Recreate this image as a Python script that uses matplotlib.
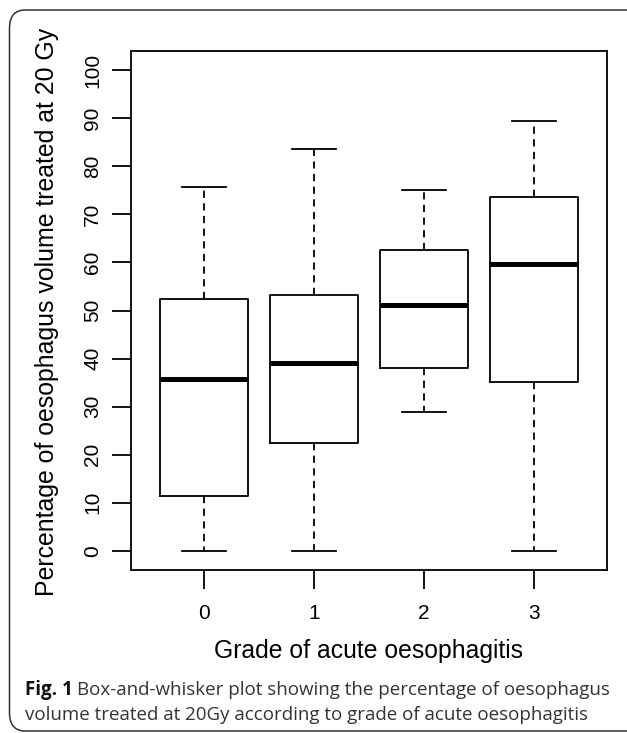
import matplotlib
matplotlib.use('Agg')
import matplotlib.pyplot as plt
from matplotlib.patches import FancyBboxPatch

# ── data ─────────────────────────────────────────────────────────────────────
grades  = ['0', '1', '2', '3']
whislo  = [0.0, 0.0, 28.9, 0.0]
q1      = [11.4, 22.5, 38.1, 35.2]
med     = [35.8, 39.1, 51.2, 59.7]
q3      = [52.4, 53.2, 62.6, 73.6]
whishi  = [75.8, 83.7, 75.1, 89.4]
yticks  = [0, 10, 20, 30, 40, 50, 60, 70, 80, 90, 100]

W, H, DPI = 627, 733, 100
plt.rcParams['font.family'] = ['Liberation Sans', 'DejaVu Sans']

fig = plt.figure(figsize=(W / DPI, H / DPI), dpi=DPI, facecolor='white')

# rounded frame round the whole figure
fig.patches.append(FancyBboxPatch((9.5 / W, 2 / H), (W + 10) / W, (H - 12) / H,
                                  boxstyle='round,pad=0,rounding_size=0.025',
                                  transform=fig.transFigure, facecolor='none',
                                  edgecolor='#333333', linewidth=1.1, zorder=0))

ax = fig.add_axes([131 / W, 1 - 570 / H, 476 / W, 519 / H])

stats = [dict(whislo=a, q1=b, med=c, q3=d, whishi=e, fliers=[])
         for a, b, c, d, e in zip(whislo, q1, med, q3, whishi)]
pos = list(range(len(grades)))
lw = 1.3
ax.bxp(stats, positions=pos, widths=0.8, showfliers=False,
       boxprops=dict(color='black', linewidth=lw),
       whiskerprops=dict(color='black', linewidth=lw, linestyle=(0, (4, 3))),
       capprops=dict(color='black', linewidth=lw),
       medianprops=dict(color='black', linewidth=3.6, solid_capstyle='butt'),
       capwidths=0.4)

ax.set_xlim(-0.66, 3.66)
ax.set_ylim(-4, 104)
ax.set_xticks(pos)
ax.set_xticklabels(grades)
ax.set_yticks(yticks)
ax.set_yticklabels([str(t) for t in yticks], rotation=90, va='center')

for s in ax.spines.values():
    s.set_linewidth(lw)
ax.tick_params(axis='both', direction='out', length=13.7, width=lw, labelsize=15)
ax.tick_params(axis='x', pad=11)
ax.tick_params(axis='y', pad=7)

ax.set_xlabel('Grade of acute oesophagitis', fontsize=17.8)
ax.set_ylabel('Percentage of oesophagus volume treated at 20 Gy', fontsize=17.9)
ax.xaxis.set_label_coords(0.5, -0.156)
ax.yaxis.set_label_coords(-0.176, 0.497)
ax.xaxis.label.set_va('center')
ax.yaxis.label.set_va('center')

# ── caption ──────────────────────────────────────────────────────────────────
cap_font = ['Open Sans', 'DejaVu Sans']
cx = 25 / W
t1 = fig.text(cx, 1 - 690 / H, 'Fig. 1', fontsize=13.5, fontweight='bold',
              family=cap_font, color='#111111', va='center', ha='left')
fig.canvas.draw()
bb = t1.get_window_extent()
fig.text((bb.x1 + 4) / W, 1 - 690 / H,
         'Box-and-whisker plot showing the percentage of oesophagus',
         fontsize=13.5, family=cap_font, color='#333333', va='center', ha='left')
fig.text(cx, 1 - 715 / H,
         'volume treated at 20Gy according to grade of acute oesophagitis',
         fontsize=13.5, family=cap_font, color='#333333', va='center', ha='left')

fig.savefig('out.png', dpi=DPI, facecolor='white')
